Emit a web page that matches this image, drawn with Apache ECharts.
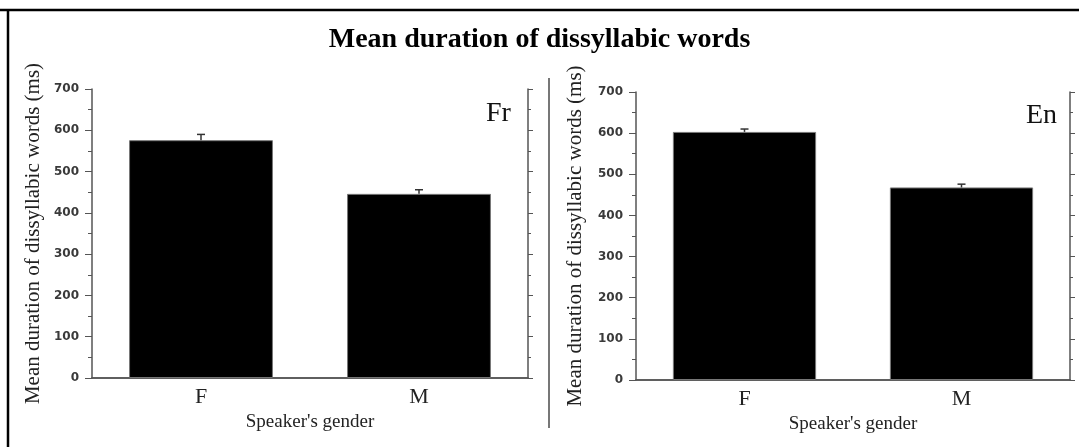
<!DOCTYPE html>
<html>
<head>
<meta charset="utf-8">
<script src="https://cdn.jsdelivr.net/npm/echarts@6/dist/echarts.min.js"></script>
<style>
  html, body { margin: 0; padding: 0; background: #fff; }
  #chart { width: 1079px; height: 447px; }
</style>
</head>
<body>
<div id="chart"></div>
<script>
// data
const genders = ['F', 'M'];
const frMeans = [576, 446];
const frErrors = [14, 10];
const enMeans = [603, 468];
const enErrors = [7, 8];
const yTicks = [0, 100, 200, 300, 400, 500, 600, 700];

const serif = '"Liberation Serif", "Times New Roman", serif';
const sans = '"DejaVu Sans", Verdana, sans-serif';
const axisGray = '#555';

const chart = echarts.init(document.getElementById('chart'));

// error bar drawn from bar top upwards, with a small cap
const errorBar = (means, errors) => (params, api) => {
    const i = api.value(0);
    const base = api.coord([i, means[i]]);
    const top = api.coord([i, means[i] + errors[i]]);
    const style = { stroke: '#333', lineWidth: 1.5 };
    return {
        type: 'group',
        children: [
            { type: 'line', shape: { x1: base[0], y1: base[1], x2: top[0], y2: top[1] }, style },
            { type: 'line', shape: { x1: top[0] - 4, y1: top[1], x2: top[0] + 4, y2: top[1] }, style },
        ],
    };
};

const xAxisPair = (gridIndex) => [
    {
        type: 'category', gridIndex, data: genders, position: 'bottom',
        axisLine: { lineStyle: { color: axisGray, width: 1.5 } },
        axisTick: { alignWithLabel: true, length: 5, lineStyle: { color: axisGray } },
        axisLabel: { color: '#222', fontFamily: serif, fontSize: 22, margin: 8 },
        name: "Speaker's gender", nameLocation: 'middle', nameGap: 32,
        nameTextStyle: { color: '#222', fontFamily: serif, fontSize: 19 },
    },
    {
        type: 'category', gridIndex, data: genders, position: 'top',
        axisLine: { lineStyle: { color: axisGray, width: 1.5 } },
        axisTick: { alignWithLabel: true, length: 3, lineStyle: { color: axisGray } },
        axisLabel: { show: false },
    },
];

const yAxisPair = (gridIndex, nameGap) => [
    {
        type: 'value', gridIndex, min: 0, max: 700, interval: 100, position: 'left',
        splitLine: { show: false },
        axisLine: { show: true, lineStyle: { color: axisGray, width: 1.5 } },
        axisTick: { show: true, length: 7, lineStyle: { color: axisGray } },
        minorTick: { show: true, splitNumber: 2, length: 4, lineStyle: { color: axisGray } },
        axisLabel: {
            color: '#3a3a3a', fontFamily: sans, fontSize: 12, fontWeight: 'bold', margin: 13,
            customValues: yTicks,
        },
        name: 'Mean duration of dissyllabic words (ms)', nameLocation: 'middle', nameGap,
        nameTextStyle: { color: '#222', fontFamily: serif, fontSize: 21 },
    },
    {
        type: 'value', gridIndex, min: 0, max: 700, interval: 100, position: 'right',
        splitLine: { show: false },
        axisLine: { show: true, lineStyle: { color: axisGray, width: 1.5 } },
        axisTick: { show: true, length: 5, lineStyle: { color: axisGray } },
        minorTick: { show: true, splitNumber: 2, length: 3, lineStyle: { color: axisGray } },
        axisLabel: { show: false },
    },
];

const barSeries = (idx, means) => ({
    type: 'bar', xAxisIndex: idx * 2, yAxisIndex: idx * 2,
    data: means, barWidth: '66%',
    itemStyle: { color: '#000', borderColor: '#777', borderWidth: 1 },
    silent: true,
});

const errorSeries = (idx, means, errors) => ({
    type: 'custom', xAxisIndex: idx * 2, yAxisIndex: idx * 2,
    data: genders.map((g, i) => [i, means[i] + errors[i]]),
    renderItem: errorBar(means, errors), z: 5, silent: true,
});

chart.setOption({
    animation: false,
    backgroundColor: '#fff',
    title: {
        text: 'Mean duration of dissyllabic words', left: 'center', top: 21,
        textStyle: { fontFamily: serif, fontSize: 28, fontWeight: 'bold', color: '#000' },
    },
    grid: [
        { left: 92, top: 89, width: 436, height: 289 },
        { left: 636, top: 92, width: 434, height: 288 },
    ],
    xAxis: [...xAxisPair(0), ...xAxisPair(1)],
    yAxis: [...yAxisPair(0, 48), ...yAxisPair(1, 50)],
    series: [
        barSeries(0, frMeans),
        errorSeries(0, frMeans, frErrors),
        barSeries(1, enMeans),
        errorSeries(1, enMeans, enErrors),
    ],
    graphic: [
        // frame of the figure (top and left edges only)
        { type: 'line', shape: { x1: 0, y1: 10, x2: 1079, y2: 10 }, style: { stroke: '#000', lineWidth: 2.5 } },
        { type: 'line', shape: { x1: 8, y1: 10, x2: 8, y2: 447 }, style: { stroke: '#000', lineWidth: 2.5 } },
        // separator between the two panels
        { type: 'line', shape: { x1: 549, y1: 78, x2: 549, y2: 428 }, style: { stroke: '#777', lineWidth: 2 } },
        // panel tags
        { type: 'text', left: 486, top: 100, style: { text: 'Fr', font: '28px ' + serif, fill: '#111' } },
        { type: 'text', left: 1026, top: 102, style: { text: 'En', font: '28px ' + serif, fill: '#111' } },
    ],
});
</script>
</body>
</html>
